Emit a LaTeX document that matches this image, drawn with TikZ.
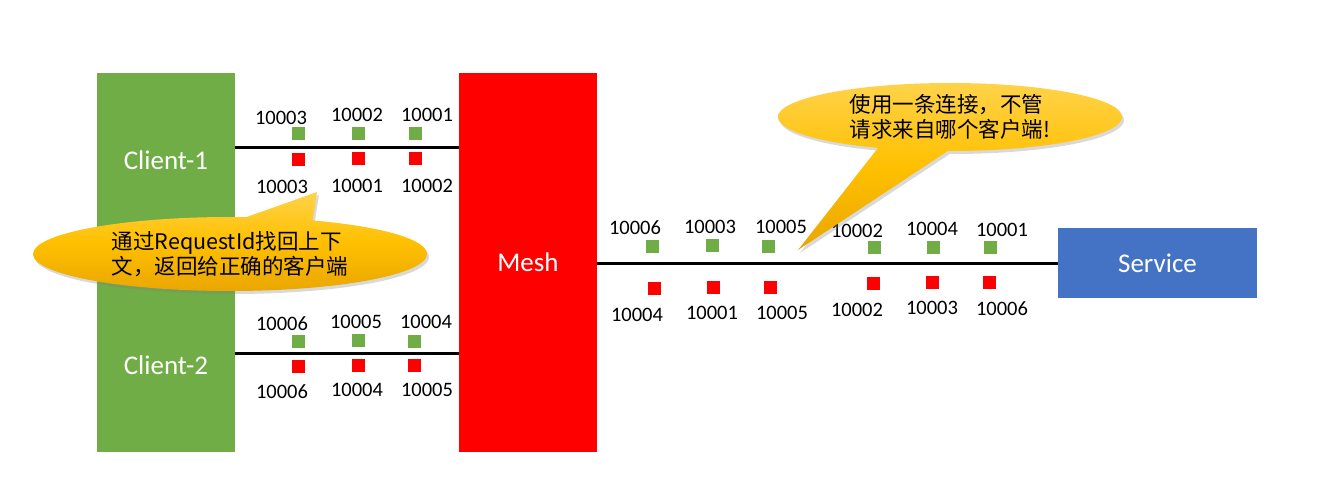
\documentclass[tikz,border=0pt]{standalone}
\usepackage{fontspec}
\setmainfont{Carlito}
\newfontfamily\cjk{Noto Sans CJK SC}
\usepackage{tikz}
\usetikzlibrary{shapes.callouts,shadows}

\definecolor{clientgreen}{HTML}{70AD47}
\definecolor{meshred}{HTML}{FF0000}
\definecolor{svcblue}{HTML}{4472C4}
\definecolor{tipgold}{HTML}{FFC000}
\definecolor{tiplight}{HTML}{FFD34A}
\definecolor{tipdark}{HTML}{EAA600}

\begin{document}
\begin{tikzpicture}[x=1pt,y=-1pt,
  box/.style={rectangle, inner sep=0pt, text=white, font=\fontsize{27}{32}\selectfont},
  wire/.style={line width=3pt, black},
  gpkt/.style={rectangle, fill=clientgreen, minimum size=13pt, inner sep=0pt},
  rpkt/.style={gpkt, fill=meshred},
  num/.style={font=\fontsize{20.5}{24}\selectfont, inner sep=0pt},
  tip/.style={ellipse callout, draw=none, top color=tiplight, bottom color=tipdark,
    middle color=tipgold, drop shadow={shadow xshift=2pt, shadow yshift=-3pt, opacity=0.3},
    font=\cjk\fontsize{21.5}{25}\selectfont, align=left, inner sep=0pt}
]
  \useasboundingbox (0,0) rectangle (1323,503);

  \node[box, fill=clientgreen, minimum width=138pt, minimum height=174pt] (c1) at (166,160) {Client-1};
  \node[box, fill=clientgreen, minimum width=138pt, minimum height=174pt] (c2) at (166,365) {Client-2};
  \node[box, fill=meshred, minimum width=138pt, minimum height=379pt] (mesh) at (528,262.5) {Mesh};
  \node[box, fill=svcblue, minimum width=199pt, minimum height=70pt] (svc) at (1157.5,263) {Service};

  \draw[wire] (c1.east) ++(0,-13) coordinate (c1w) -- (c1w -| mesh.west);
  \draw[wire] (c2.east) ++(0,-12) coordinate (c2w) -- (c2w -| mesh.west);
  \draw[wire] (mesh.east |- svc.west) -- (svc.west);

  % client-1 <-> mesh
  \foreach \x/\y/\lx/\ly/\n [count=\i] in {298/133/281/118/10003, 358/133/357/115/10002, 415/133/427/115/10001}{
    \node[gpkt] (ag\i) at (\x,\y) {};
    \node[num] (agn\i) at (\lx,\ly) {\n};
  }
  \foreach \x/\y/\lx/\ly/\n [count=\i] in {298/159/282/187/10003, 358/158/357/186/10001, 415/158/427/186/10002}{
    \node[rpkt] (ar\i) at (\x,\y) {};
    \node[num] (arn\i) at (\lx,\ly) {\n};
  }

  % client-2 <-> mesh
  \foreach \x/\y/\lx/\ly/\n [count=\i] in {298/341/282/324/10006, 358/340/356/322/10005, 414/341/426/322/10004}{
    \node[gpkt] (bg\i) at (\x,\y) {};
    \node[num] (bgn\i) at (\lx,\ly) {\n};
  }
  \foreach \x/\y/\lx/\ly/\n [count=\i] in {298/366/282/392/10006, 358/365/357/390/10004, 414/365/427/390/10005}{
    \node[rpkt] (br\i) at (\x,\y) {};
    \node[num] (brn\i) at (\lx,\ly) {\n};
  }

  % mesh <-> service
  \foreach \x/\y/\lx/\ly/\n [count=\i] in {652/246/635/228/10006, 712/245/710/227/10003, 768/246/781/227/10005,
      874/247/857/231/10002, 933/247/932/229/10004, 990/247/1002/230/10001}{
    \node[gpkt] (sg\i) at (\x,\y) {};
    \node[num] (sgn\i) at (\lx,\ly) {\n};
  }
  \foreach \x/\y/\lx/\ly/\n [count=\i] in {654/288/637/315/10004, 713/287/712/313/10001, 770/287/782/313/10005,
      873/283/857/310/10002, 932/282/932/308/10003, 989/282/1002/309/10006}{
    \node[rpkt] (sr\i) at (\x,\y) {};
    \node[num] (srn\i) at (\lx,\ly) {\n};
  }

  \node[tip, minimum width=394pt, minimum height=74pt, callout absolute pointer={(317,192)},
    callout pointer arc=20] (back) at (230,254) {通过RequestId找回上下\\文，返回给正确的客户端};
  \node[tip, minimum width=344pt, minimum height=68pt, callout absolute pointer={(798,250)},
    callout pointer arc=24] (onelink) at (950,117) {使用一条连接，不管\\请求来自哪个客户端!};
\end{tikzpicture}
\end{document}
